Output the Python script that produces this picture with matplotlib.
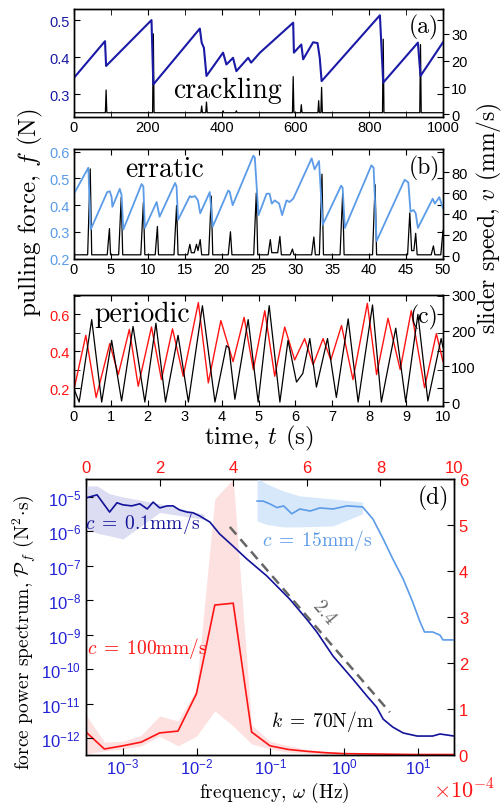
import numpy as np
import matplotlib
matplotlib.use("Agg")
import matplotlib.pyplot as plt
from matplotlib.ticker import MultipleLocator, LogLocator, FuncFormatter, NullLocator, FixedLocator

plt.rcParams['font.family'] = ['Liberation Sans', 'DejaVu Sans']
plt.rcParams['mathtext.fontset'] = 'custom'
plt.rcParams['mathtext.rm'] = 'Liberation Sans'
plt.rcParams['mathtext.it'] = 'Liberation Sans:italic'
plt.rcParams['mathtext.bf'] = 'Liberation Sans:bold'
plt.rcParams['axes.linewidth'] = 1.0

NAVY = '#1a1aa6'
SKY = '#5b9be8'
RED = '#ff1414'
TICKBLUE = '#2222d6'
CM = dict(family='cmr10', math_fontfamily='cm')

# (a) crackling: time (s), force (N), speed (mm/s)
force_a = [(0, 0.344), (84, 0.443), (87, 0.376), (210, 0.500), (215, 0.326),
           (341, 0.477), (346, 0.439), (352, 0.425), (359, 0.349), (404, 0.412),
           (413, 0.380), (431, 0.398), (440, 0.362), (472, 0.398), (480, 0.385),
           (504, 0.412), (594, 0.493), (596, 0.412), (616, 0.434), (621, 0.394),
           (648, 0.440), (660, 0.438), (666, 0.398), (671, 0.335), (829, 0.513),
           (838, 0.331), (932, 0.439), (939, 0.349), (1000, 0.440)]
speed_a = [(0, 0.5), (85, 0.5), (87, 9), (89, 0.5), (213, 0.5), (215, 30), (217, 0.5),
           (344, 0.5), (346, 3), (348, 0.5), (357, 0.5), (359, 4.5), (361, 0.5),
           (402, 0.5), (404, 1.2), (406, 0.5), (438, 0.5), (440, 1.2), (442, 0.5),
           (592, 0.5), (594, 14), (596, 0.5), (614, 0.5), (616, 3.5), (618, 0.5),
           (661, 0.5), (663, 5), (665, 0.5), (669, 0.5), (671, 10), (673, 0.5),
           (836, 0.5), (838, 28), (840, 0.5), (937, 0.5), (939, 26), (941, 0.5),
           (1000, 0.5)]

# (b) erratic
force_b = [(0, 0.443), (1.94, 0.540), (2.26, 0.309), (4.5, 0.449), (4.85, 0.452),
           (5.1, 0.43), (5.2, 0.394), (6.2, 0.461), (6.45, 0.437), (6.68, 0.309),
           (9.16, 0.479), (9.4, 0.47), (9.6, 0.315), (11.2, 0.412), (11.6, 0.357),
           (13.7, 0.483), (13.9, 0.47), (14.1, 0.345), (15.7, 0.434), (15.9, 0.43),
           (16.4, 0.434), (16.8, 0.418), (17.1, 0.37), (18.4, 0.449), (18.8, 0.32),
           (20.9, 0.455), (21.1, 0.45), (21.5, 0.40), (24.3, 0.585), (24.5, 0.578),
           (25.0, 0.363), (26.1, 0.443), (26.5, 0.443), (26.8, 0.406), (27.2, 0.418),
           (27.8, 0.406), (28.2, 0.363), (28.8, 0.418), (29.2, 0.412), (29.7, 0.424),
           (32.2, 0.575), (32.6, 0.534), (33.2, 0.565), (33.7, 0.327), (36.2, 0.473),
           (36.4, 0.465), (36.7, 0.315), (40.3, 0.549), (40.6, 0.54), (41.0, 0.266),
           (44.8, 0.495), (45.3, 0.485), (45.6, 0.376), (46.0, 0.382), (46.3, 0.37),
           (46.6, 0.315), (48.6, 0.424), (48.9, 0.406), (49.5, 0.43), (50, 0.388)]
speed_b = [(0, 1), (1.85, 1), (2.2, 83), (2.4, 1), (4.5, 1), (4.8, 26), (4.95, 1),
           (6.05, 1), (6.4, 56), (6.6, 1), (9.05, 1), (9.4, 51), (9.6, 1),
           (11.0, 1), (11.3, 28), (11.45, 1), (13.55, 1), (13.9, 48), (14.1, 1),
           (15.4, 1), (15.7, 11), (15.9, 3), (16.3, 3), (16.6, 11), (16.8, 5),
           (17.1, 15.5), (17.3, 1), (18.25, 1), (18.6, 57), (18.8, 1), (20.9, 1),
           (21.2, 23), (21.4, 1), (24.35, 1), (24.7, 60), (24.9, 1), (26.3, 1),
           (26.6, 15.5), (26.8, 3), (27.6, 3), (27.9, 18.5), (28.1, 1), (29.3, 1),
           (29.6, 6.5), (29.8, 1), (32.2, 1), (32.5, 18), (32.7, 1), (33.25, 1),
           (33.6, 78), (33.8, 1), (36.05, 1), (36.4, 59), (36.6, 1), (40.45, 1),
           (40.8, 68), (41.0, 1), (45.2, 1), (45.5, 41), (45.75, 5), (46.05, 5),
           (46.3, 21.5), (46.5, 1), (48.4, 1), (48.7, 9.5), (48.9, 1), (49.7, 1),
           (50, 24)]

# (c) periodic
force_c = [(0, 0.193), (0.32, 0.485), (0.6, 0.149), (0.97, 0.44), (1.2, 0.273),
           (1.5, 0.517), (1.74, 0.21), (2.1, 0.53), (2.37, 0.246), (2.67, 0.52),
           (2.96, 0.264), (3.37, 0.662), (3.64, 0.228), (3.98, 0.565), (4.31, 0.343),
           (4.61, 0.582), (4.86, 0.30), (5.17, 0.618), (5.44, 0.264), (5.71, 0.53),
           (5.98, 0.352), (6.25, 0.467), (6.48, 0.326), (6.75, 0.467), (6.96, 0.352),
           (7.25, 0.538), (7.56, 0.246), (7.95, 0.658), (8.2, 0.273), (8.51, 0.577),
           (8.84, 0.30), (9.14, 0.618), (9.5, 0.202), (9.82, 0.494), (10, 0.343)]
speed_c = [(0, 37), (0.14, 0), (0.48, 231), (0.75, 0), (1.02, 173), (1.29, 3),
           (1.6, 212), (1.92, 0), (2.22, 221), (2.48, 0), (2.82, 187), (3.1, 0),
           (3.48, 270), (3.82, 0), (4.13, 158), (4.2, 152), (4.36, 8), (4.72, 231),
           (4.99, 0), (5.29, 270), (5.58, 0), (5.8, 173), (6.03, 56), (6.2, 80),
           (6.39, 178), (6.57, 42), (6.87, 178), (7.11, 13), (7.43, 233), (7.7, 0),
           (8.09, 272), (8.33, 0), (8.72, 207), (8.99, 0), (9.32, 246), (9.59, 3),
           (9.95, 178), (10, 153)]

# (d) power spectra, log10 of frequency (Hz) and of P_f (N^2 s)
slow_lw = [-3.50, -3.45, -3.35, -3.18, -3.08, -3.00, -2.88, -2.77, -2.67, -2.59,
           -2.50, -2.40, -2.32, -2.23, -2.13, -2.05, -1.96, -1.82, -1.69, -1.51,
           -1.32, -1.05, -0.74, -0.51, -0.37, -0.15, 0.12, 0.31, 0.44, 0.53,
           0.66, 0.80, 0.99, 1.20, 1.30, 1.49]
slow_lp = [-5.03, -5.00, -4.94, -5.44, -5.17, -5.23, -5.26, -5.20, -5.35, -5.15,
           -5.32, -5.26, -5.26, -5.38, -5.44, -5.46, -5.55, -5.73, -6.07, -6.42,
           -6.80, -7.29, -7.96, -8.54, -8.92, -9.62, -10.29, -10.78, -11.10, -11.45,
           -11.68, -11.85, -11.94, -11.94, -11.88, -11.94]
slow_band_lw = [-3.50, -3.35, -3.18, -3.00, -2.50, -1.90]
slow_band_hi = [-4.68, -4.68, -4.91, -5.00, -5.20, -5.50]
slow_band_lo = [-5.93, -6.05, -6.13, -6.22, -5.45, -5.65]

fast_lw = [-1.18, -1.10, -1.01, -0.91, -0.82, -0.71, -0.60, -0.46, -0.33, -0.15,
           0.04, 0.25, 0.39, 0.53, 0.66, 0.80, 0.93, 1.03, 1.09, 1.20, 1.30, 1.34, 1.49]
fast_lp = [-5.12, -5.12, -5.20, -5.31, -5.26, -5.49, -5.35, -5.41, -5.32, -5.35,
           -5.26, -5.29, -5.64, -6.22, -6.80, -7.38, -8.05, -8.63, -8.92, -8.92,
           -9.01, -9.15, -9.15]
fast_band_lw = [-1.18, -1.05, -0.82, -0.60, -0.15, 0.25]
fast_band_hi = [-4.45, -4.62, -4.83, -4.97, -5.06, -5.15]
fast_band_lo = [-5.70, -5.80, -5.87, -5.87, -5.84, -5.49]

slope_lw = [-1.55, 0.62]
slope_lp = [-5.87, -11.25]

# c = 100 mm/s on the linear axes (top: 0-10, right: x1e-4)
peak_x = [0, 0.5, 1.0, 1.5, 2.0, 2.5, 3.0, 3.5, 4.0, 4.5, 5.0, 5.5, 6.0, 6.5, 7.0,
          8.0, 9.0, 10.0]
peak_y = [0.50, 0.13, 0.20, 0.28, 0.48, 0.52, 1.33, 3.26, 3.30, 0.50, 0.20, 0.12,
          0.08, 0.05, 0.03, 0.02, 0.01, 0.01]
peak_hi = [0.87, 0.28, 0.30, 0.43, 0.85, 0.74, 1.43, 5.57, 6.00, 0.65, 0.30, 0.20,
           0.12, 0.08, 0.05, 0.03, 0.02, 0.02]
peak_lo = [0.02, 0.09, 0.13, 0.20, 0.41, 0.20, 0.41, 0.96, 0.63, 0.24, 0.13, 0.06,
           0.04, 0.02, 0.01, 0.0, 0.0, 0.0]

W, H = 504, 804
fig = plt.figure(figsize=(W / 100, H / 100), dpi=100)


def rect(l, t, r, b):
    return [l / W, 1 - b / H, (r - l) / W, (b - t) / H]


def style_pair(ax, ax2, lcolor):
    ax.tick_params(direction='in', top=True, right=True, labelsize=10.5, length=4)
    ax.tick_params(which='minor', direction='in', top=True, right=True, length=4)
    ax.tick_params(axis='y', labelcolor=lcolor, pad=3)
    ax2.tick_params(axis='y', direction='out', labelsize=10.5, length=4, pad=2)
    ax.tick_params(axis='x', pad=2)


panels = [
    (rect(74, 10, 443, 118), force_a, speed_a, NAVY, 1.5,
     (0, 1000), (0.238, 0.53), (-1.1, 39.3), 200, 100, 0.1, [0, 10, 20, 30],
     'crackling', (227, 91), '(a)', 27, True),
    (rect(74, 150, 443, 260), force_b, speed_b, SKY, 1.3,
     (0, 50), (0.199, 0.61), (-3, 102), 5, None, 0.1, [0, 20, 40, 60, 80],
     'erratic', (165, 170), '(b)', 168, True),
    (rect(74, 296, 443, 407), force_c, speed_c, RED, 1.0,
     (0, 10), (0.103, 0.703), (-11, 300), 1, None, 0.2, [0, 100, 200, 300],
     'periodic', (142, 315), '(c)', 317, False),
]

for (r, fpts, vpts, col, lw, xl, yl, yl2, xmaj, xmin, ymaj, y2ticks, word, wpos,
     tag, tag_y, force_top) in panels:
    ax = fig.add_axes(r)
    ax2 = ax.twinx()
    ft, fv = np.array(fpts).T
    vt, vv = np.array(vpts).T
    ax2.plot(vt, vv, color='black', lw=0.9)
    ax.plot(ft, fv, color=col, lw=lw)
    if force_top:
        ax.set_zorder(ax2.get_zorder() + 1)
        ax.patch.set_visible(False)
    ax.set_xlim(*xl)
    ax.set_ylim(*yl)
    ax2.set_ylim(*yl2)
    ax.xaxis.set_major_locator(MultipleLocator(xmaj))
    if xmin:
        ax.xaxis.set_minor_locator(MultipleLocator(xmin))
    ax.yaxis.set_major_locator(MultipleLocator(ymaj))
    if ymaj == 0.2:
        ax.yaxis.set_minor_locator(MultipleLocator(0.1))
    ax2.yaxis.set_major_locator(FixedLocator(y2ticks))
    ax.yaxis.set_major_formatter(FuncFormatter(lambda v, p: f'{v:g}'))
    style_pair(ax, ax2, col)
    fig.text(wpos[0] / W, 1 - wpos[1] / H, word, fontsize=20, ha='center', va='center', **CM)
    fig.text(424 / W, 1 - tag_y / H, tag, fontsize=17, ha='center', va='center', **CM)
    if tag == '(c)':
        ax.set_xlabel(r'time, $t$ (s)', fontsize=18, labelpad=0, **CM)

fig.text(30 / W, 1 - 213 / H, r'pulling force, $f$ (N)', rotation=90, fontsize=18,
         ha='center', va='center', **CM)
fig.text(489 / W, 1 - 218 / H, r'slider speed, $v$ (mm/s)', rotation=90, fontsize=17,
         ha='center', va='center', **CM)

# (d)
axr = fig.add_axes(rect(86, 480, 454, 756))
axl = fig.add_axes(rect(86, 480, 454, 756))
axl.patch.set_visible(False)

axr.fill_between(peak_x, peak_lo, peak_hi, color='#fde0e0', lw=0)
axr.plot(peak_x, peak_y, color=RED, lw=1.2)
axr.set_xlim(0, 10)
axr.set_ylim(0, 6)
axr.xaxis.tick_top()
axr.yaxis.tick_right()
axr.xaxis.set_major_locator(MultipleLocator(2))
axr.yaxis.set_major_locator(MultipleLocator(1))
axr.tick_params(direction='in', colors='black', labelsize=12, length=5)
axr.tick_params(labelcolor=RED)
axr.tick_params(axis='x', pad=3)

sbx = 10.0 ** np.array(slow_band_lw)
axl.fill_between(sbx, 10.0 ** np.array(slow_band_lo), 10.0 ** np.array(slow_band_hi),
                 color='#dcdcf2', lw=0)
fbx = 10.0 ** np.array(fast_band_lw)
axl.fill_between(fbx, 10.0 ** np.array(fast_band_lo), 10.0 ** np.array(fast_band_hi),
                 color='#d8e8fb', lw=0)
axl.plot(10.0 ** np.array(slow_lw), 10.0 ** np.array(slow_lp), color='#12129a', lw=1.2)
axl.plot(10.0 ** np.array(fast_lw), 10.0 ** np.array(fast_lp), color=SKY, lw=1.2)
axl.plot(10.0 ** np.array(slope_lw), 10.0 ** np.array(slope_lp), color='#666666',
         lw=1.8, ls=(0, (4, 2.5)))
axl.set_xscale('log')
axl.set_yscale('log')
axl.set_xlim(10 ** -3.5, 10 ** 1.49)
axl.set_ylim(10 ** -12.49, 10 ** -4.48)
for a in (axl.xaxis, axl.yaxis):
    a.set_major_locator(LogLocator(base=10, numticks=20))
    a.set_minor_locator(NullLocator())
    a.set_major_formatter(FuncFormatter(lambda v, p: r'$10^{%d}$' % round(np.log10(v))))
axl.tick_params(direction='in', labelsize=12, length=5, labelcolor=TICKBLUE)
axl.tick_params(axis='x', pad=1)

fig.text(274 / W, 1 - 793 / H, r'frequency, $\omega$ (Hz)', fontsize=14,
         ha='center', va='center', **CM)
fig.text(24 / W, 1 - 632 / H, r'force power spectrum, $\mathcal{P}_f$ $(\mathrm{N}^2\!\cdot\!\mathrm{s})$',
         rotation=90, fontsize=14, ha='center', va='center', **CM)
fig.text(464 / W, 1 - 791 / H, r'$\times10^{-4}$', color=RED, fontsize=16,
         ha='center', va='center', math_fontfamily='cm')
fig.text(433 / W, 1 - 498 / H, '(d)', fontsize=17, ha='center', va='center', **CM)
fig.text(143 / W, 1 - 523 / H, r'$c\;=\;0.1\mathrm{mm/s}$', color='#12129a', fontsize=14,
         ha='center', va='center', math_fontfamily='cm')
fig.text(317 / W, 1 - 541 / H, r'$c\;=\;15\mathrm{mm/s}$', color=SKY, fontsize=14,
         ha='center', va='center', math_fontfamily='cm')
fig.text(147 / W, 1 - 649 / H, r'$c\;=\;100\mathrm{mm/s}$', color=RED, fontsize=14,
         ha='center', va='center', math_fontfamily='cm')
fig.text(323 / W, 1 - 722 / H, r'$k\;=\;70\mathrm{N/m}$', color='black', fontsize=14,
         ha='center', va='center', math_fontfamily='cm')
fig.text(324 / W, 1 - 613 / H, '2.4', color='#666666', fontsize=14, rotation=-50,
         ha='center', va='center', **CM)

fig.savefig('out.png', dpi=100)
